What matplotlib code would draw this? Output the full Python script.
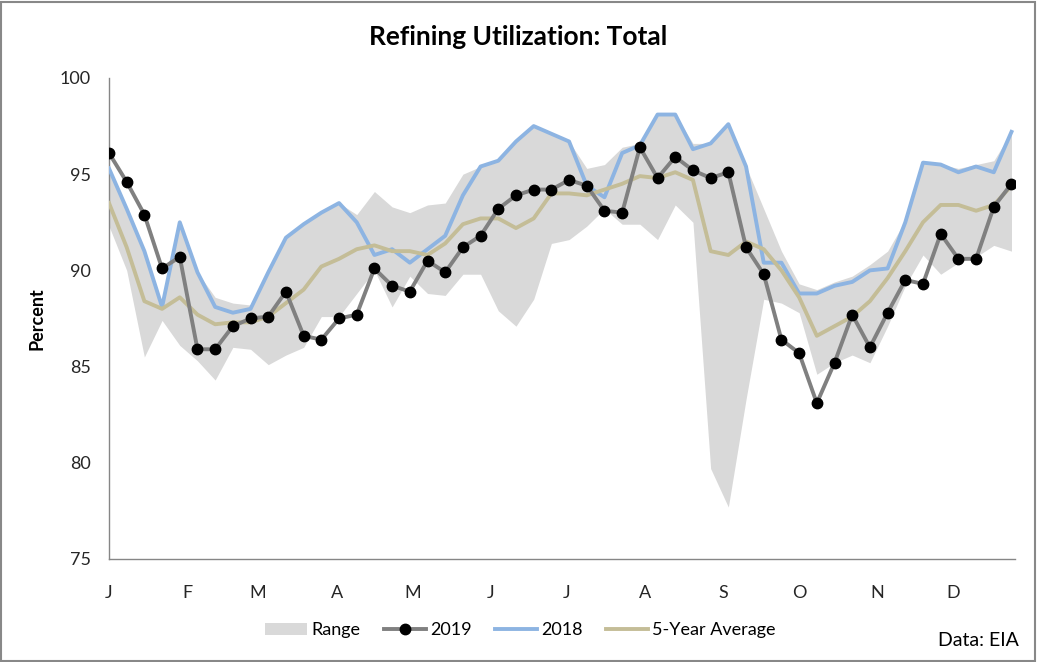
import numpy as np
import matplotlib.pyplot as plt
from matplotlib.patches import Patch, Rectangle
from matplotlib.lines import Line2D

plt.rcParams['font.family'] = ['Lato', 'DejaVu Sans']

# Weekly values (week 1..52)
weeks = np.arange(52)

y2019 = [96.1, 94.6, 92.9, 90.1, 90.7, 85.9, 85.9, 87.1, 87.5, 87.6,
         88.9, 86.6, 86.4, 87.5, 87.7, 90.1, 89.2, 88.9, 90.5, 89.9,
         91.2, 91.8, 93.2, 93.9, 94.2, 94.2, 94.7, 94.4, 93.1, 93.0,
         96.4, 94.8, 95.9, 95.2, 94.8, 95.1, 91.2, 89.8, 86.4, 85.7,
         83.1, 85.2, 87.7, 86.0, 87.8, 89.5, 89.3, 91.9, 90.6, 90.6,
         93.3, 94.5]

y2018 = [95.3, 93.2, 91.0, 88.1, 92.5, 89.9, 88.1, 87.8, 88.0, 89.9,
         91.7, 92.4, 93.0, 93.5, 92.5, 90.8, 91.1, 90.4, 91.1, 91.8,
         93.9, 95.4, 95.7, 96.7, 97.5, 97.1, 96.7, 94.4, 93.8, 96.1,
         96.5, 98.1, 98.1, 96.3, 96.6, 97.6, 95.4, 90.4, 90.4, 88.8,
         88.8, 89.2, 89.4, 90.0, 90.1, 92.5, 95.6, 95.5, 95.1, 95.4,
         95.1, 97.2]

avg5 = [93.5, 91.2, 88.4, 88.0, 88.6, 87.7, 87.2, 87.3, 87.3, 87.6,
        88.3, 89.0, 90.2, 90.6, 91.1, 91.3, 91.0, 91.0, 90.8, 91.4,
        92.4, 92.7, 92.7, 92.2, 92.7, 94.0, 94.0, 93.9, 94.2, 94.5,
        94.9, 94.8, 95.1, 94.7, 91.0, 90.8, 91.5, 91.1, 90.0, 88.6,
        86.6, 87.1, 87.6, 88.4, 89.6, 91.0, 92.5, 93.4, 93.4, 93.1,
        93.4, 94.4]

range_hi = [95.3, 93.2, 91.0, 88.2, 92.5, 89.9, 88.6, 88.3, 88.2, 89.9,
            91.7, 92.4, 93.0, 93.5, 92.9, 94.1, 93.3, 93.0, 93.4, 93.5,
            95.0, 95.4, 95.7, 96.7, 97.5, 97.1, 96.7, 95.3, 95.5, 96.4,
            96.6, 98.1, 98.1, 96.6, 96.6, 97.6, 95.4, 93.2, 91.0, 89.3,
            89.0, 89.4, 89.7, 90.3, 91.0, 92.6, 95.6, 95.5, 95.3, 95.5,
            95.7, 97.2]

range_lo = [92.3, 90.0, 85.5, 87.4, 86.1, 85.3, 84.3, 86.0, 85.9, 85.1,
            85.6, 86.0, 87.6, 87.6, 88.8, 90.0, 88.1, 89.7, 88.8, 88.7,
            89.8, 89.8, 87.9, 87.1, 88.5, 91.4, 91.6, 92.3, 93.2, 92.4,
            92.4, 91.6, 93.4, 92.5, 79.7, 77.7, 83.3, 88.5, 88.3, 87.8,
            84.6, 85.2, 85.6, 85.2, 87.1, 89.2, 90.8, 89.8, 90.4, 90.7,
            91.3, 91.0]

month_labels = ['J', 'F', 'M', 'A', 'M', 'J', 'J', 'A', 'S', 'O', 'N', 'D']
month_days = [0, 31, 59, 90, 120, 151, 181, 212, 243, 273, 304, 334]

c_range = '#D9D9D9'
c_2019 = '#808080'
c_2018 = '#8DB4E2'
c_avg = '#C4BD97'
c_axis = '#868686'

fig = plt.figure(figsize=(10.37, 6.62), dpi=100)
ax = fig.add_axes([0.1051, 0.1556, 0.8737, 0.7266])

ax.fill_between(weeks, range_lo, range_hi, color=c_range, lw=0, zorder=1)
ax.plot(weeks, y2018, color=c_2018, lw=2.8, zorder=3)
ax.plot(weeks, avg5, color=c_avg, lw=2.8, zorder=4)
ax.plot(weeks, y2019, color=c_2019, lw=2.8, marker='o', ms=7.5,
        mfc='black', mec='black', zorder=5)

ax.set_xlim(0, 51.2)
ax.set_ylim(75, 100)
ax.set_yticks([75, 80, 85, 90, 95, 100])
ax.set_xticks(np.array(month_days) / 7.0)
ax.set_xticklabels(month_labels)
ax.tick_params(axis='both', length=0, labelsize=13, colors='#262626')
ax.tick_params(axis='y', pad=13)
ax.tick_params(axis='x', pad=19)

for s in ['top', 'right']:
    ax.spines[s].set_visible(False)
for s in ['left', 'bottom']:
    ax.spines[s].set_color(c_axis)
    ax.spines[s].set_linewidth(1.0)

ax.set_ylabel('Percent', fontsize=13, fontweight='bold', labelpad=10)
fig.text(0.5, 0.944, 'Refining Utilization: Total', ha='center', va='center',
         fontsize=19, fontweight='bold')

handles = [Patch(facecolor=c_range, edgecolor='none'),
           Line2D([], [], color=c_2019, lw=2.8, marker='o', ms=7.5,
                  mfc='black', mec='black'),
           Line2D([], [], color=c_2018, lw=2.8),
           Line2D([], [], color=c_avg, lw=2.8)]
fig.legend(handles, ['Range', '2019', '2018', '5-Year Average'],
           loc='center', bbox_to_anchor=(0.502, 0.048), ncol=4, frameon=False,
           fontsize=13, handlelength=2.3, handletextpad=0.25, columnspacing=1.3)

fig.text(0.983, 0.033, 'Data: EIA', ha='right', va='center', fontsize=14)

fig.add_artist(Rectangle((0.001, 0.0015), 0.997, 0.996, transform=fig.transFigure,
                         fill=False, edgecolor='#888888', lw=1.5))

fig.savefig('out.png', dpi=100)
